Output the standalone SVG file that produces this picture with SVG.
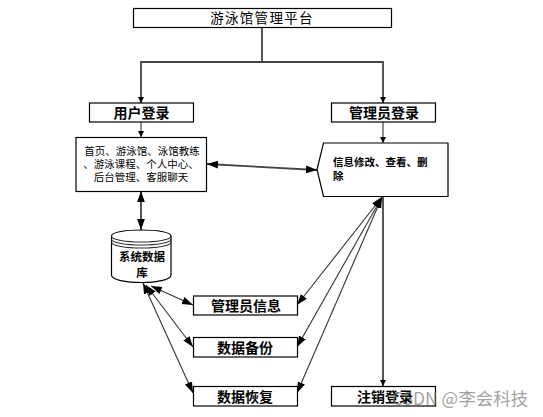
<svg xmlns="http://www.w3.org/2000/svg" width="543" height="417" viewBox="0 0 543 417">
<style>
text{font-family:"Noto Sans CJK SC","Noto Sans",sans-serif;fill:#000;text-anchor:middle}
.b{fill:#fff;stroke:#000;stroke-width:1.2}
.t{font-size:14px;font-weight:700}
.s{font-size:10.500px}
.c{fill:none;stroke:#333;stroke-width:1.1}
.k{stroke-width:1.8;stroke:#444}
</style>
<defs>
<marker id="a" viewBox="0 0 10 10" refX="10" refY="5" markerWidth="6" markerHeight="6" markerUnits="userSpaceOnUse" orient="auto-start-reverse"><path d="M0 0L10 5L0 10z" fill="#000"/></marker>
<marker id="l" viewBox="0 0 10 10" refX="10" refY="5" markerWidth="11" markerHeight="11" markerUnits="userSpaceOnUse" orient="auto-start-reverse"><path d="M0 1.500L10 5L0 8.500z" fill="#000"/></marker>
</defs>
<rect width="543" height="417" fill="#fff"/>
<g id="connectors">
<path class="c k" d="M262 27V62"/>
<path class="c k" d="M141 103V62H383V103" marker-end="url(#a)" marker-start="url(#a)"/>
<path class="c" d="M141 122V137" marker-end="url(#a)"/>
<path class="c" d="M383 122V143" marker-end="url(#a)"/>
<path class="c k" d="M207 164L317 170" marker-start="url(#l)" marker-end="url(#l)"/>
<path class="c k" d="M141 191V230" marker-start="url(#l)" marker-end="url(#l)"/>
<path class="c" d="M151 286L193 305" marker-start="url(#l)" marker-end="url(#l)"/>
<path class="c" d="M146 285L193 347" marker-start="url(#l)" marker-end="url(#l)"/>
<path class="c" d="M143 283L193 393" marker-start="url(#l)" marker-end="url(#l)"/>
<path class="c" d="M382 197L297 305" marker-start="url(#l)" marker-end="url(#l)"/>
<path class="c" d="M382 197L297 347" marker-start="url(#l)" marker-end="url(#l)"/>
<path class="c" d="M382 197L297 393" marker-start="url(#l)" marker-end="url(#l)"/>
<path class="c k" d="M383 197V386" marker-end="url(#a)"/>
</g>
<g id="platform"><rect class="b" x="133.500" y="8.500" width="258" height="19"/><text x="262" y="23" font-size="13.500" letter-spacing="1.300">游泳馆管理平台</text></g>
<g id="user-login"><rect class="b" x="89.500" y="103" width="104" height="19"/><text class="t" x="141.500" y="118">用户登录</text></g>
<g id="admin-login"><rect class="b" x="331.500" y="103" width="104" height="19"/><text class="t" x="384" y="118">管理员登录</text></g>
<g id="user-functions"><rect class="b" x="76" y="137.500" width="130.500" height="54"/>
<text class="s" x="142" y="155">首页、游泳馆、泳馆教练</text>
<text class="s" x="141" y="168">、游泳课程、个人中心、</text>
<text class="s" x="141" y="181">后台管理、客服聊天</text></g>
<g id="admin-functions"><path class="b" d="M323.500 143H448V196.500H323.500L317 169.500z"/>
<text x="333" y="166" font-size="10.500" font-weight="700" style="text-anchor:start">信息修改、查看、删</text>
<text x="333" y="180" font-size="10.500" font-weight="700" style="text-anchor:start">除</text></g>
<g id="database"><path class="b" d="M111.500 236C111.500 228 171 228 171 236V275C171 285 111.500 285 111.500 275z"/>
<path class="c" d="M111.500 236C111.500 244 171 244 171 236M111.500 239C111.500 247 171 247 171 239M111.500 242C111.500 250 171 250 171 242"/>
<text x="142" y="261" font-size="11.500" font-weight="700">系统数据</text>
<text x="142" y="277" font-size="11.500" font-weight="700">库</text></g>
<g id="admin-info"><rect class="b" x="193.500" y="296" width="104" height="19"/><text class="t" x="246" y="311">管理员信息</text></g>
<g id="backup"><rect class="b" x="193.500" y="337.500" width="104" height="19.500"/><text class="t" x="245" y="352.500">数据备份</text></g>
<g id="restore"><rect class="b" x="193.500" y="386.500" width="104" height="19.500"/><text class="t" x="245" y="401.500">数据恢复</text></g>
<g id="logout"><rect class="b" x="331.500" y="386.500" width="104" height="19.500"/><text class="t" x="385" y="401.500">注销登录</text></g>
<text x="460" y="405" font-size="17.500" style="fill:#777" fill-opacity="0.7">CSDN @李会科技</text>
</svg>
